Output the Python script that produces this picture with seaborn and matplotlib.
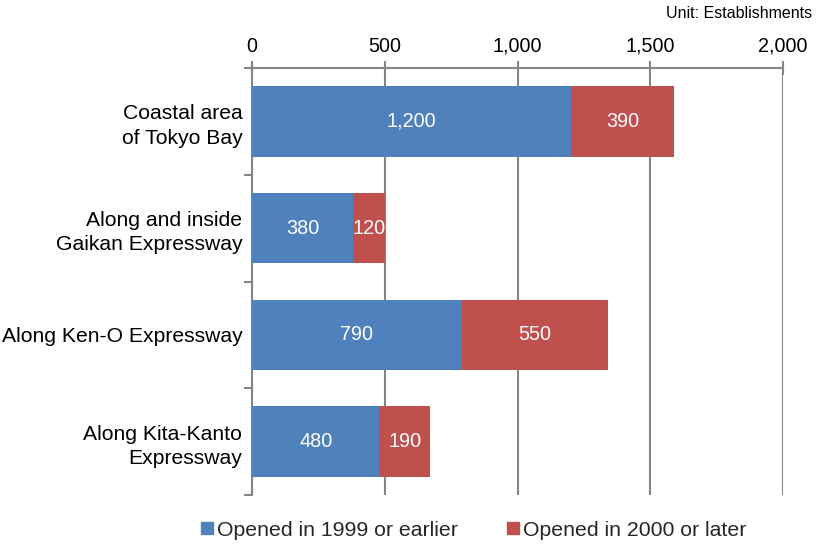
import matplotlib
matplotlib.use("Agg")
import matplotlib.pyplot as plt
from matplotlib.lines import Line2D
from matplotlib.ticker import FuncFormatter
import seaborn as sns
import pandas as pd

categories = ["Coastal area\nof Tokyo Bay", "Along and inside\nGaikan Expressway",
              "Along Ken-O Expressway", "Along Kita-Kanto\nExpressway"]
opened_1999_or_earlier = [1200, 380, 790, 480]
opened_2000_or_later = [390, 120, 550, 190]
series_names = ["Opened in 1999 or earlier", "Opened in 2000 or later"]
x_ticks = [0, 500, 1000, 1500, 2000]

BLUE = "#4F81BD"
RED = "#C0504D"
GRID = "#868686"

sns.set_theme(style="white")
plt.rcParams["font.family"] = ["Liberation Sans", "DejaVu Sans"]

df = pd.DataFrame({
    "category": categories,
    "early": opened_1999_or_earlier,
    "late": opened_2000_or_later,
})
df["total"] = df["early"] + df["late"]

fig = plt.figure(figsize=(8.17, 5.45), dpi=100)
ax = fig.add_axes([252 / 817, 1 - 495 / 545, (783 - 252) / 817, (495 - 68) / 545])

# stacked bars: total in red, earlier share in blue on top
sns.barplot(data=df, x="total", y="category", orient="h", color=RED,
            saturation=1, width=0.66, ax=ax, zorder=3)
sns.barplot(data=df, x="early", y="category", orient="h", color=BLUE,
            saturation=1, width=0.66, ax=ax, zorder=4)
for p in ax.patches:
    p.set_edgecolor("none")

for i, row in df.iterrows():
    ax.text(row["early"] / 2, i, f"{row['early']:,}", color="white",
            ha="center", va="center", fontsize=14.3, zorder=5)
    ax.text(row["early"] + row["late"] / 2, i, f"{row['late']:,}", color="white",
            ha="center", va="center", fontsize=14.3, zorder=5)

ax.set_xlim(0, 2000)
ax.set_ylim(3.5, -0.5)
ax.set_xticks(x_ticks)
ax.xaxis.set_major_formatter(FuncFormatter(lambda v, _: f"{int(v):,}"))
ax.xaxis.tick_top()
ax.tick_params(axis="x", which="major", direction="inout", length=10, width=1.5,
               color=GRID, labelsize=14.2, pad=4, labelcolor="black")

ax.set_yticks(range(len(categories)))
ax.set_yticklabels(categories, fontsize=15.2, color="black", linespacing=1.35)
ax.set_yticks([-0.5, 0.5, 1.5, 2.5, 3.5], minor=True)
ax.tick_params(axis="y", which="major", length=0, pad=7)
ax.tick_params(axis="y", which="minor", direction="out", length=6, width=1.5,
               color=GRID, left=True)

ax.grid(axis="x", color=GRID, linewidth=1.5, zorder=1)
ax.set_axisbelow(True)
ax.set_xlabel("")
ax.set_ylabel("")
for side in ["right", "bottom"]:
    ax.spines[side].set_visible(False)
for side in ["top", "left"]:
    ax.spines[side].set_visible(True)
    ax.spines[side].set_color(GRID)
    ax.spines[side].set_linewidth(1.5)

fig.text(812 / 817, 1 - 14 / 545, "Unit: Establishments", ha="right", va="center",
         fontsize=11.5, color="black")

handles = [Line2D([], [], marker="s", linestyle="none", markersize=9,
                  markerfacecolor=c, markeredgecolor=c) for c in (BLUE, RED)]
fig.legend(handles, series_names, loc="center", bbox_to_anchor=(472 / 817, 1 - 530 / 545),
           ncol=2, frameon=False, fontsize=15.3, handletextpad=0.0,
           columnspacing=2.15, handlelength=0.9, borderpad=0, borderaxespad=0)

fig.savefig("out.png", dpi=100, facecolor="white")
